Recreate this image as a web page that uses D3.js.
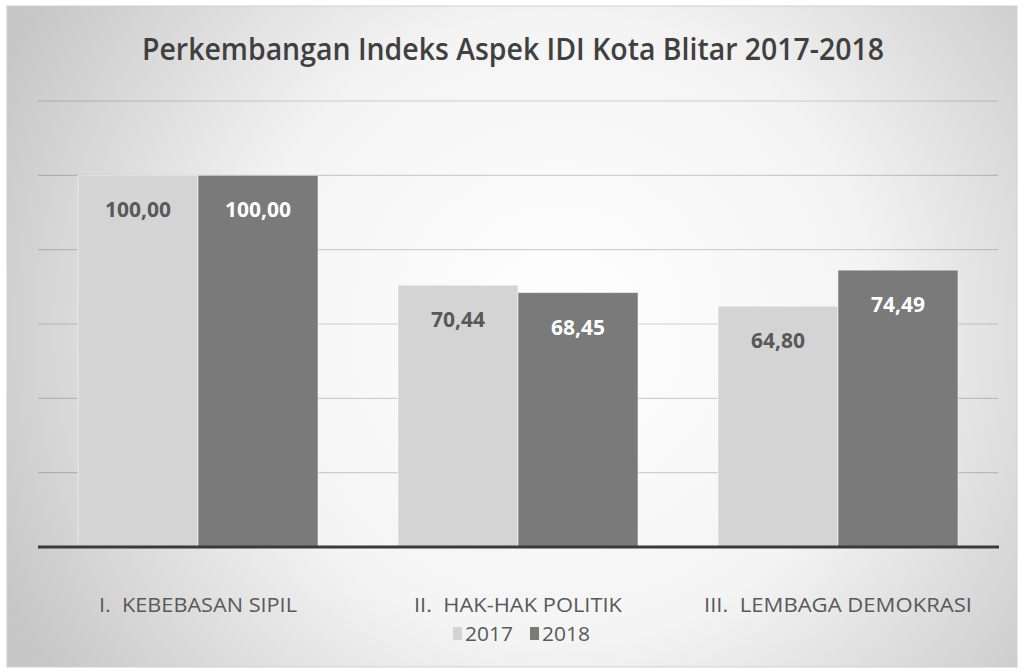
<!DOCTYPE html>
<html>
<head>
<meta charset="utf-8">
<script src="https://cdn.jsdelivr.net/npm/d3@7"></script>
<style>
  html, body { margin: 0; padding: 0; background: #fff; }
  svg { display: block; font-family: "Open Sans", sans-serif; }
</style>
</head>
<body>
<div id="chart"></div>
<script>
var categories = ['I.  KEBEBASAN SIPIL', 'II.  HAK-HAK POLITIK', 'III.  LEMBAGA DEMOKRASI']
var years = ['2017', '2018']
var values2017 = [100.00, 70.44, 64.80]
var values2018 = [100.00, 68.45, 74.49]
var yTicks = [0, 20, 40, 60, 80, 100, 120]
var title = 'Perkembangan Indeks Aspek IDI Kota Blitar 2017-2018'

var width = 1024, height = 671

var svg = d3.select('#chart').append('svg')
    .attr('width', width)
    .attr('height', height)

// background gradient of the chart panel
var defs = svg.append('defs')
var grad = defs.append('radialGradient')
    .attr('id', 'bg')
    .attr('gradientUnits', 'userSpaceOnUse')
    .attr('cx', 560).attr('cy', 330).attr('r', 620)
grad.append('stop').attr('offset', '0%').attr('stop-color', '#ffffff')
grad.append('stop').attr('offset', '50%').attr('stop-color', '#f4f4f4')
grad.append('stop').attr('offset', '100%').attr('stop-color', '#c6c6c6')

svg.append('rect')
    .attr('x', 7).attr('y', 6)
    .attr('width', 1010).attr('height', 661)
    .attr('fill', 'url(#bg)')
    .attr('stroke', '#d0d0d0')
    .attr('stroke-width', 1)

// title
svg.append('text')
    .attr('x', 513).attr('y', 60)
    .attr('text-anchor', 'middle')
    .attr('textLength', 742)
    .attr('lengthAdjust', 'spacingAndGlyphs')
    .style('font-size', '31px')
    .style('font-weight', 600)
    .style('fill', '#404040')
    .text(title)

// scales
var x0 = d3.scaleBand()
    .domain(categories)
    .range([38, 998])

var x1 = d3.scaleBand()
    .domain(years)
    .range([40, 280])

var y = d3.scaleLinear()
    .domain([0, 120])
    .range([547, 101])

var color = d3.scaleOrdinal()
    .domain(years)
    .range(['#d4d4d4', '#7a7a7a'])

var labelColor = d3.scaleOrdinal()
    .domain(years)
    .range(['#595959', '#ffffff'])

// gridlines
svg.append('g')
    .selectAll('line')
    .data(yTicks.filter(function (d) { return d > 0 }))
    .enter()
    .append('line')
        .attr('x1', 38).attr('x2', 998)
        .attr('y1', function (d) { return y(d) })
        .attr('y2', function (d) { return y(d) })
        .attr('stroke', 'rgba(0,0,0,0.17)')
        .attr('stroke-width', 1.2)

// bars
var rows = categories.map(function (c, i) {
    return { cat: c, vals: [
        { year: '2017', value: values2017[i] },
        { year: '2018', value: values2018[i] }
    ] }
})

var groups = svg.append('g')
    .selectAll('g')
    .data(rows)
    .enter()
    .append('g')
        .attr('transform', function (d) { return 'translate(' + x0(d.cat) + ',0)' })

groups.selectAll('rect')
    .data(function (d) { return d.vals })
    .enter()
    .append('rect')
        .attr('x', function (d) { return x1(d.year) })
        .attr('y', function (d) { return y(d.value) })
        .attr('width', x1.bandwidth())
        .attr('height', function (d) { return y(0) - y(d.value) })
        .attr('fill', function (d) { return color(d.year) })
        .attr('stroke', 'rgba(255,255,255,0.5)')
        .attr('stroke-width', 1)

groups.selectAll('text')
    .data(function (d) { return d.vals })
    .enter()
    .append('text')
        .attr('x', function (d) { return x1(d.year) + x1.bandwidth() / 2 })
        .attr('y', function (d) { return y(d.value) + 42 })
        .attr('text-anchor', 'middle')
        .style('font-size', '21px')
        .style('font-weight', 700)
        .style('fill', function (d) { return labelColor(d.year) })
        .text(function (d) { return d3.format('.2f')(d.value).replace('.', ',') })

// baseline
svg.append('line')
    .attr('x1', 38).attr('x2', 999)
    .attr('y1', y(0)).attr('y2', y(0))
    .attr('stroke', '#3a3a3a')
    .attr('stroke-width', 3)

// category labels
var catWidths = [198, 208, 268]
svg.append('g')
    .selectAll('text')
    .data(categories)
    .enter()
    .append('text')
        .attr('x', function (d) { return x0(d) + x0.bandwidth() / 2 })
        .attr('y', 612)
        .attr('text-anchor', 'middle')
        .attr('textLength', function (d, i) { return catWidths[i] })
        .attr('lengthAdjust', 'spacingAndGlyphs')
        .style('font-size', '20px')
        .style('fill', '#595959')
        .style('white-space', 'pre')
        .text(function (d) { return d })

// legend
var legend = svg.append('g')
var legendX = [453, 530]
legend.selectAll('rect')
    .data(years)
    .enter()
    .append('rect')
        .attr('x', function (d, i) { return legendX[i] })
        .attr('y', 627)
        .attr('width', 9)
        .attr('height', 13)
        .attr('fill', function (d) { return color(d) })

legend.selectAll('text')
    .data(years)
    .enter()
    .append('text')
        .attr('x', function (d, i) { return legendX[i] + 12 })
        .attr('y', 641)
        .attr('textLength', 48)
        .attr('lengthAdjust', 'spacingAndGlyphs')
        .style('font-size', '20px')
        .style('fill', '#595959')
        .text(function (d) { return d })
</script>
</body>
</html>
